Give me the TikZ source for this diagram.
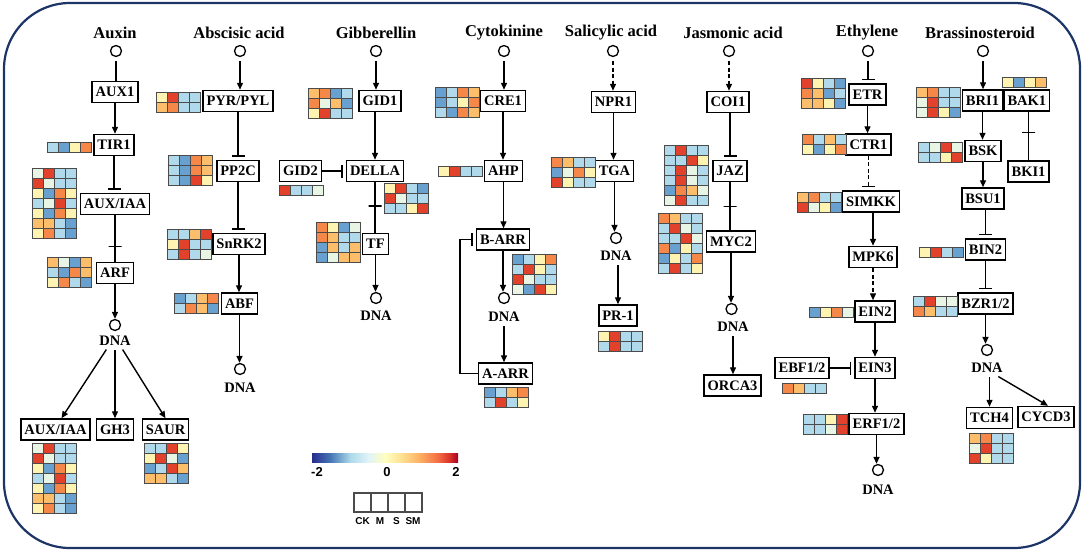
\documentclass[tikz,border=0pt]{standalone}
\usepackage{fontspec}
\setmainfont{Liberation Serif}
\setsansfont{Liberation Sans}
\usetikzlibrary{arrows.meta}
\definecolor{hmb}{RGB}{104,160,207}
\definecolor{hml}{RGB}{176,218,236}
\definecolor{hmw}{RGB}{232,244,228}
\definecolor{hmy}{RGB}{255,243,178}
\definecolor{hmo}{RGB}{253,190,108}
\definecolor{hmn}{RGB}{245,135,72}
\definecolor{hmr}{RGB}{226,66,44}
\definecolor{cellc}{RGB}{75,75,75}
\definecolor{framec}{RGB}{28,53,102}
\definecolor{cb0}{RGB}{38,45,140}
\definecolor{cb1}{RGB}{69,117,180}
\definecolor{cb2}{RGB}{171,217,233}
\definecolor{cb3}{RGB}{224,243,248}
\definecolor{cb4}{RGB}{255,255,191}
\definecolor{cb5}{RGB}{254,224,144}
\definecolor{cb6}{RGB}{253,174,97}
\definecolor{cb7}{RGB}{244,109,67}
\definecolor{cb8}{RGB}{215,48,39}
\definecolor{cb9}{RGB}{165,0,38}
\tikzset{
  box/.style={draw, line width=1.5pt, fill=white, minimum height=21pt, inner xsep=3.5pt, inner ysep=0pt, font=\fontsize{14.5}{16}\selectfont\bfseries},
  hdr/.style={font=\fontsize{16.5}{18}\selectfont\bfseries, inner sep=0pt},
  dnat/.style={font=\fontsize{14.5}{16}\selectfont\bfseries, inner sep=1pt},
  hormone/.style={circle, draw, line width=1.3pt, minimum size=11pt, inner sep=0pt},
  link/.style={line width=1.4pt},
  arr/.style={link, -{Triangle[length=7pt,width=6pt]}},
  inh/.style={link, -{Bar[width=13pt]}, shorten >=3pt},
  dsh/.style={dash pattern=on 4pt off 2.5pt},
  xbar/.style={draw, line width=1.4pt, minimum width=13pt, minimum height=0pt, inner sep=0pt, outer sep=0pt},
  cell/.style={draw=cellc, line width=0.8pt},
  cbl/.style={font=\sffamily\bfseries\fontsize{13}{14}\selectfont, inner sep=0pt},
  lgl/.style={font=\sffamily\bfseries\fontsize{10}{11}\selectfont, inner sep=0pt},
}
\newcommand{\heat}[3]{%
  \foreach \hrow [count=\hj from 0] in {#3} {%
    \foreach \hc [count=\hi from 0] in \hrow {%
      \draw[cell, fill=hm\hc] ({#1+\hi*11.2},{#2+\hj*10}) rectangle ++(11.2,10);
    }}}
\begin{document}
\begin{tikzpicture}[x=1pt,y=-1pt]
\useasboundingbox (0,0) rectangle (1084,551);
\draw[framec, line width=2.2pt, rounded corners=66pt] (4,3) rectangle (1080,548);

% ---------- headers and hormone circles
\node[hdr] (hA) at (115,33) {Auxin};
\node[hdr] (hB) at (239,33) {Abscisic acid};
\node[hdr] (hC) at (376,33) {Gibberellin};
\node[hdr] (hD) at (504,33) {Cytokinine};
\node[hdr] (hE) at (611,33) {Salicylic acid};
\node[hdr] (hF) at (733,33) {Jasmonic acid};
\node[hdr] (hG) at (867,33) {Ethylene};
\node[hdr] (hH) at (980,33) {Brassinosteroid};
\node[hormone] (cA) at (116,51) {};
\node[hormone] (cB) at (240,51) {};
\node[hormone] (cC) at (376,51) {};
\node[hormone] (cD) at (504,51) {};
\node[hormone] (cE) at (613,51) {};
\node[hormone] (cF) at (729,51) {};
\node[hormone] (cG) at (868,51) {};
\node[hormone] (cH) at (983,51) {};

% ---------- Auxin
\node[box] (AUX1) at (115,92) {AUX1};
\node[box] (TIR1) at (114,145) {TIR1};
\node[box] (AUXIAA) at (115,204) {AUX/IAA};
\node[box] (ARF) at (115,273) {ARF};
\node[hormone] (dA) at (115,325) {};
\node[dnat] (nA) at (115,341) {DNA};
\node[box] (AUXb) at (55.5,429.5) {AUX/IAA};
\node[box] (GH3) at (115,429.5) {GH3};
\node[box] (SAUR) at (165.5,429.5) {SAUR};
\draw[link, shorten <=4pt] (cA.south) -- (cA.south |- AUX1.north);
\draw[arr] (AUX1.south) -- (AUX1.south |- TIR1.north);
\draw[inh] (TIR1.south) -- (TIR1.south |- AUXIAA.north);
\draw[link] (AUXIAA.south) -- node[xbar, pos=0.67] (xA) {} (AUXIAA.south |- ARF.north);
\draw[arr] (ARF.south) -- (ARF.south |- dA.north);
\draw[arr, shorten <=3pt] ([xshift=-7pt]nA.south) -- ([xshift=6pt]AUXb.north);
\draw[arr, shorten <=3pt] (nA.south) -- (GH3.north);
\draw[arr, shorten <=3pt] ([xshift=6pt]nA.south) -- (SAUR.north);
\heat{47}{142}{{l,b,y,n}}
\heat{32}{168}{{w,r,l,l},{r,w,l,l},{y,b,n,y},{l,w,r,l},{y,b,n,y},{o,o,l,b},{y,n,l,b}}
\heat{47}{257}{{o,w,b,o},{l,b,n,o},{y,n,l,b}}
\heat{32}{443}{{w,r,l,l},{r,w,l,l},{y,b,n,y},{l,w,r,l},{y,b,n,y},{o,o,l,b},{y,n,l,b}}
\heat{144}{443}{{l,l,r,y},{y,r,w,b},{b,l,r,o},{o,o,l,b}}

% ---------- Abscisic acid
\node[box] (PYR) at (238,101) {PYR/PYL};
\node[box] (PP2C) at (238,171) {PP2C};
\node[box] (SnRK2) at (239,244) {SnRK2};
\node[box] (ABF) at (239.5,303.5) {ABF};
\node[hormone] (dB) at (240,369) {};
\node[dnat] (nB) at (240,388) {DNA};
\draw[arr, shorten <=4pt] (cB.south) -- (cB.south |- PYR.north);
\draw[inh] (PYR.south) -- (PYR.south |- PP2C.north);
\draw[inh] (PP2C.south) -- (PP2C.south |- SnRK2.north);
\draw[arr] (SnRK2.south) -- (SnRK2.south |- ABF.north);
\draw[arr] (ABF.south) -- (ABF.south |- dB.north);
\heat{156}{92}{{y,r,l,l},{o,n,l,l}}
\heat{168}{155}{{l,b,n,o},{l,b,n,o},{l,b,r,y}}
\heat{167}{229}{{l,l,o,r},{y,r,l,l},{l,r,l,w}}
\heat{174}{293}{{b,l,o,n},{l,n,o,b}}

% ---------- Gibberellin
\node[box] (GID1) at (380,101) {GID1};
\node[box] (DELLA) at (375,171) {DELLA};
\node[box] (GID2) at (300.5,171) {GID2};
\node[box] (TF) at (375.5,244) {TF};
\node[hormone] (dC) at (376,298) {};
\node[dnat] (nC) at (376,316) {DNA};
\draw[arr, shorten <=4pt] (cC.south) -- (cC.south |- GID1.north);
\draw[arr] (DELLA.north |- GID1.south) -- (DELLA.north);
\draw[inh] (GID2.east) -- (DELLA.west);
\draw[link] (DELLA.south) -- node[xbar, pos=0.47] (xC) {} (DELLA.south |- TF.north);
\draw[arr] (TF.south) -- (TF.south |- dC.north);
\heat{308}{88}{{o,n,b,l},{n,w,o,b},{y,r,l,l}}
\heat{279}{185}{{r,l,l,w}}
\heat{384}{183}{{y,r,l,b},{r,w,l,l},{l,l,y,r}}
\heat{316}{222}{{n,y,b,w},{n,o,l,l},{b,o,l,o},{b,w,o,o}}

% ---------- Cytokinine
\node[box] (CRE1) at (503,101) {CRE1};
\node[box] (AHP) at (503.5,171) {AHP};
\node[box] (BARR) at (503,239.5) {B-ARR};
\node[hormone] (dD) at (504,298) {};
\node[dnat] (nD) at (504,317) {DNA};
\node[box] (AARR) at (505.5,373.5) {A-ARR};
\draw[arr, shorten <=4pt] (cD.south) -- (cD.south |- CRE1.north);
\draw[arr] (CRE1.south) -- (CRE1.south |- AHP.north);
\draw[arr] (AHP.south) -- (AHP.south |- BARR.north);
\draw[arr] (BARR.south) -- (BARR.south |- dD.north);
\draw[arr, shorten <=3pt] (nD.south) -- (nD.south |- AARR.north);
\draw[inh] (AARR.west) -- ++(-18,0) |- (BARR.west);
\heat{435}{87}{{b,l,n,o},{b,l,y,n},{l,b,n,o}}
\heat{438}{166}{{y,r,l,l}}
\heat{512}{254}{{b,l,y,n},{l,r,y,l},{r,w,l,l},{w,b,r,y}}
\heat{484}{387}{{b,l,o,n},{l,r,l,y}}

% ---------- Salicylic acid
\node[box] (NPR1) at (613.5,102) {NPR1};
\node[box] (TGA) at (614.5,171) {TGA};
\node[hormone] (dE) at (616,238) {};
\node[dnat] (nE) at (616,256) {DNA};
\node[box] (PR1) at (618,315.5) {PR-1};
\draw[arr, dsh, shorten <=4pt] (cE.south) -- (cE.south |- NPR1.north);
\draw[arr] (NPR1.south) -- (NPR1.south |- TGA.north);
\draw[arr] (TGA.south) -- (TGA.south |- dE.north);
\draw[arr, shorten <=3pt] (PR1.north |- nE.south) -- (PR1.north);
\heat{551}{157}{{n,o,l,l},{b,w,n,y},{r,y,l,l}}
\heat{598}{331}{{y,r,l,l},{l,r,l,l}}

% ---------- Jasmonic acid
\node[box] (COI1) at (728,102) {COI1};
\node[box] (JAZ) at (730,171) {JAZ};
\node[box] (MYC2) at (731,241.5) {MYC2};
\node[hormone] (dF) at (731.5,309) {};
\node[dnat] (nF) at (733,327) {DNA};
\node[box] (ORCA3) at (732.5,385.5) {ORCA3};
\draw[arr, dsh, shorten <=4pt] (cF.south) -- (cF.south |- COI1.north);
\draw[inh] (JAZ.north |- COI1.south) -- (JAZ.north);
\draw[link] (JAZ.south) -- node[xbar, pos=0.5] (xF) {} (JAZ.south |- MYC2.north);
\draw[arr] (MYC2.south) -- (MYC2.south |- dF.north);
\draw[arr, shorten <=3pt] (nF.south) -- (nF.south |- ORCA3.north);
\heat{664}{145}{{l,r,l,l},{l,l,r,y},{l,r,w,l},{l,r,w,l},{b,n,o,w},{w,r,l,l}}
\heat{658}{213}{{n,o,l,l},{l,r,w,l},{l,l,r,w},{n,b,y,l},{b,y,l,n},{l,r,l,y}}

% ---------- Ethylene
\node[box] (ETR) at (867.5,94.5) {ETR};
\node[box] (CTR1) at (868.5,144.5) {CTR1};
\node[box] (SIMKK) at (871,201.5) {SIMKK};
\node[box] (MPK6) at (873,257) {MPK6};
\node[box] (EIN2) at (875,311.5) {EIN2};
\node[box] (EIN3) at (875,368) {EIN3};
\node[box] (EBF) at (802,368) {EBF1/2};
\node[box] (ERF) at (876.5,424) {ERF1/2};
\node[hormone] (dG) at (878,470) {};
\node[dnat] (nG) at (878,490) {DNA};
\draw[inh, shorten <=4pt] (cG.south) -- (cG.south |- ETR.north);
\draw[arr] (ETR.south) -- (ETR.south |- CTR1.north);
\draw[inh, dsh] (CTR1.south) -- (CTR1.south |- SIMKK.north);
\draw[arr] (MPK6.north |- SIMKK.south) -- (MPK6.north);
\draw[arr, dsh] (MPK6.south) -- (MPK6.south |- EIN2.north);
\draw[arr] (EIN2.south) -- (EIN2.south |- EIN3.north);
\draw[inh] (EBF.east) -- (EIN3.west);
\draw[arr] (EIN3.south) -- (EIN3.south |- ERF.north);
\draw[arr] (ERF.south) -- (ERF.south |- dG.north);
\heat{801}{78}{{r,y,l,b},{n,o,b,l},{o,o,y,b}}
\heat{802}{134}{{n,l,o,l},{y,b,y,n}}
\heat{797}{192}{{o,n,l,l},{r,w,y,b}}
\heat{809}{307}{{b,y,n,w}}
\heat{782}{383}{{n,o,l,l}}
\heat{803}{414}{{l,l,y,r},{l,l,w,r}}

% ---------- Brassinosteroid
\node[box] (BRI1) at (982.5,100.5) {BRI1};
\node[box, anchor=west] (BAK1) at (BRI1.east) {BAK1};
\node[box] (BKI1) at (1028.5,171.5) {BKI1};
\node[box] (BSK) at (983,151) {BSK};
\node[box] (BSU1) at (983,198.5) {BSU1};
\node[box] (BIN2) at (985.5,249.5) {BIN2};
\node[box] (BZR) at (985.5,303.5) {BZR1/2};
\node[hormone] (dH) at (987,350) {};
\node[dnat] (nH) at (987,368) {DNA};
\node[box] (TCH4) at (989.5,418) {TCH4};
\node[box] (CYCD3) at (1046,417) {CYCD3};
\draw[arr, shorten <=4pt] (cH.south) -- (cH.south |- BRI1.north);
\draw[link] (BKI1.north |- BAK1.south) -- node[xbar, pos=0.43] (xH) {} (BKI1.north);
\draw[arr] (BRI1.south) -- (BRI1.south |- BSK.north);
\draw[arr] (BSK.south) -- (BSK.south |- BSU1.north);
\draw[inh] (BIN2.north |- BSU1.south) -- (BIN2.north);
\draw[inh] (BIN2.south) -- (BIN2.south |- BZR.north);
\draw[arr] (BZR.south) -- (BZR.south |- dH.north);
\draw[arr, shorten <=3pt] (TCH4.north |- nH.south) -- (TCH4.north);
\draw[arr, shorten <=5pt] ([xshift=7pt]nH.south) -- ([xshift=2pt]CYCD3.north);
\heat{1002}{77}{{y,b,y,o}}
\heat{916}{87}{{o,n,l,l},{w,r,l,l},{w,r,y,b}}
\heat{918}{142}{{l,w,r,w},{l,l,y,r}}
\heat{919}{247}{{y,r,l,b}}
\heat{913}{296}{{l,r,w,w},{n,o,l,l}}
\heat{969}{433}{{o,n,l,l},{w,r,l,l},{r,y,l,l}}

% ---------- colour bar
\shade[left color=cb0, right color=cb1] (312,453) rectangle (330.2,462);
\shade[left color=cb1, right color=cb2] (330,453) rectangle (350.2,462);
\shade[left color=cb2, right color=cb3] (350,453) rectangle (368.2,462);
\shade[left color=cb3, right color=cb4] (368,453) rectangle (385.2,462);
\shade[left color=cb4, right color=cb5] (385,453) rectangle (402.2,462);
\shade[left color=cb5, right color=cb6] (402,453) rectangle (420.2,462);
\shade[left color=cb6, right color=cb7] (420,453) rectangle (438.2,462);
\shade[left color=cb7, right color=cb8] (438,453) rectangle (450.2,462);
\shade[left color=cb8, right color=cb9] (450,453) rectangle (458,462);
\node[cbl] (cbm) at (317,472) {-2};
\node[cbl] (cbz) at (387,472) {0};
\node[cbl] (cbp) at (456,472) {2};

% ---------- legend
\foreach \k in {0,1,2,3} {\draw[cellc, line width=1.1pt] ({354+\k*17},493) rectangle ++(17,19);}
\node[lgl] (lCK) at (362.5,521) {CK};
\node[lgl] (lM) at (380,521) {M};
\node[lgl] (lS) at (396.5,521) {S};
\node[lgl] (lSM) at (413,521) {SM};
\end{tikzpicture}
\end{document}
